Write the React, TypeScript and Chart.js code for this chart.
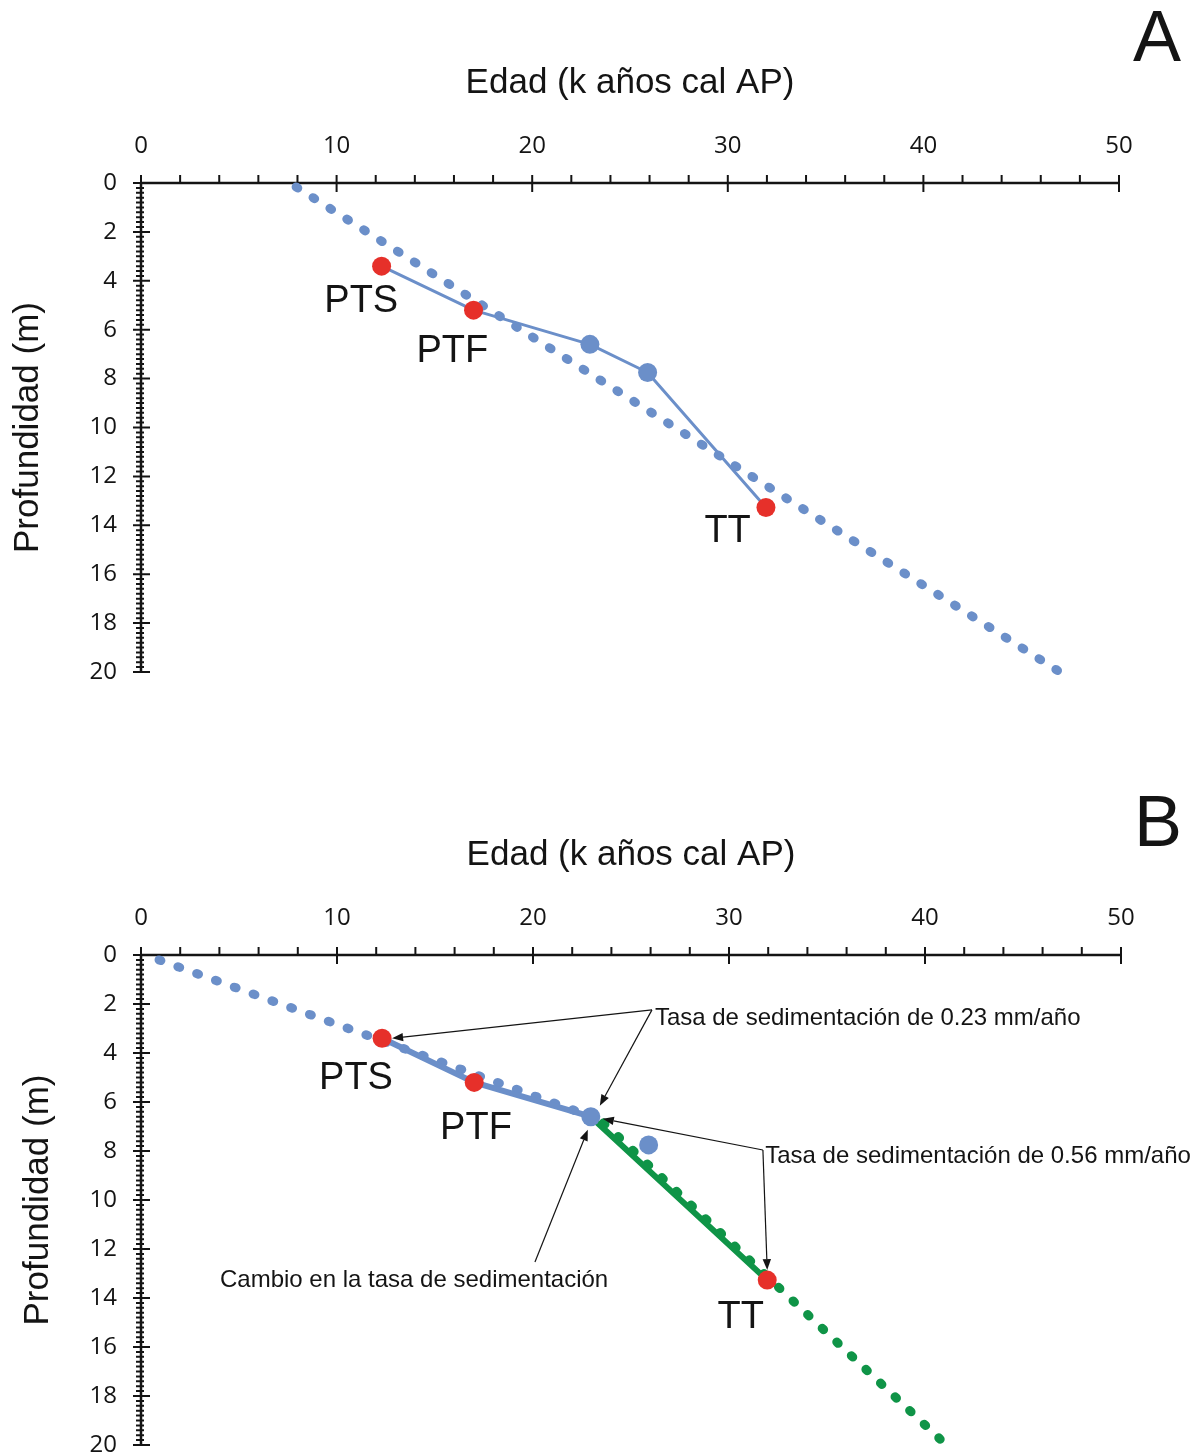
import React, { useEffect, useRef } from "react";
import { Chart, registerables } from "chart.js";

Chart.register(...registerables);

// ---------------- DATA ----------------
// Dated levels (age in k cal yr BP, depth in m)
const levelNames = ["PTS", "PTF", "", "", "TT"];
const levelAges = [12.3, 17.0, 22.95, 25.9, 31.95];
const levelDepths = [3.4, 5.2, 6.6, 7.75, 13.27];
const levelIsTephra = [true, true, false, false, true];

// Panel A: single linear trend
const trendAAges = [7.93, 46.9];
const trendADepths = [0.16, 19.96];

// Panel B: two trends (upper / lower)
const trendB1Ages = [0.92, 22.9];
const trendB1Depths = [0.2, 6.57];
const trendB2Ages = [23.6, 40.85];
const trendB2Depths = [6.85, 19.82];

// Axis ticks
const xTickValues = [0, 10, 20, 30, 40, 50];
const yTickValues = [0, 2, 4, 6, 8, 10, 12, 14, 16, 18, 20];

const xTitle = "Edad (k años cal AP)";
const yTitle = "Profundidad (m)";
const rate1Text = "Tasa de sedimentación de 0.23 mm/año";
const rate2Text = "Tasa de sedimentación de 0.56 mm/año";
const changeText = "Cambio en la tasa de sedimentación";

// ---------------- STYLE ----------------
const BLUE = "#6B8FC9";
const RED = "#E6302A";
const GREEN = "#0F9447";
const INK = "#141414";
const SANS = "'Liberation Sans', Arial, sans-serif";
const TICKFONT = "'Open Sans', 'Noto Sans', sans-serif";

const pts = (ages: number[], depths: number[]) =>
  ages.map((a, i) => ({ x: a, y: depths[i] }));

const pick = (idx: number[]) => idx.map((i) => ({ x: levelAges[i], y: levelDepths[i] }));

type Spec = {
  top: number;
  height: number;
  padding: { top: number; left: number; right: number; bottom: number };
  xTitlePad: number;
  yTitlePad: number;
  letter: string;
  letterPos: [number, number];
  variant: "A" | "B";
  labelPos: { i: number; x: number; y: number }[];
};

function drawArrow(ctx: CanvasRenderingContext2D, fx: number, fy: number, tx: number, ty: number) {
  const ang = Math.atan2(ty - fy, tx - fx);
  const L = 11;
  const W = 4.2;
  const bx = tx - L * Math.cos(ang);
  const by = ty - L * Math.sin(ang);
  ctx.beginPath();
  ctx.moveTo(fx, fy);
  ctx.lineTo(bx, by);
  ctx.stroke();
  ctx.beginPath();
  ctx.moveTo(tx, ty);
  ctx.lineTo(bx + W * Math.sin(ang), by - W * Math.cos(ang));
  ctx.lineTo(bx - W * Math.sin(ang), by + W * Math.cos(ang));
  ctx.closePath();
  ctx.fill();
}

function makePlugins(spec: Spec) {
  const axesPlugin = {
    id: "customAxes",
    beforeDatasetsDraw(chart: any) {
      const { ctx } = chart;
      const xs = chart.scales.x;
      const ys = chart.scales.y;
      const x0 = xs.getPixelForValue(0);
      const x50 = xs.getPixelForValue(50);
      const y0 = ys.getPixelForValue(0);
      const y20 = ys.getPixelForValue(20);
      ctx.save();
      ctx.strokeStyle = INK;
      ctx.lineCap = "butt";
      ctx.lineWidth = 2.5;
      ctx.beginPath();
      ctx.moveTo(x0, y0);
      ctx.lineTo(x50 + 1, y0);
      ctx.moveTo(x0, y0);
      ctx.lineTo(x0, y20);
      ctx.stroke();
      ctx.lineWidth = 2;
      ctx.beginPath();
      // x ticks: major every 10 (crossing), minor every 2 (outside)
      for (let v = 0; v <= 50; v += 2) {
        const px = xs.getPixelForValue(v);
        if (v % 10 === 0) {
          ctx.moveTo(px, y0 - 8);
          ctx.lineTo(px, y0 + 9);
        } else {
          ctx.moveTo(px, y0 - 8);
          ctx.lineTo(px, y0);
        }
      }
      // y ticks: major every 2 (crossing), minor every 0.2
      for (let k = 0; k <= 100; k++) {
        const v = k * 0.2;
        const py = ys.getPixelForValue(v);
        if (k % 10 === 0) {
          ctx.moveTo(x0 - 8, py);
          ctx.lineTo(x0 + 9, py);
        } else {
          ctx.moveTo(x0 - 5, py);
          ctx.lineTo(x0 + 3, py);
        }
      }
      ctx.stroke();
      ctx.restore();
    },
  };

  const decorPlugin = {
    id: "decor",
    afterDatasetsDraw(chart: any) {
      const { ctx } = chart;
      const xs = chart.scales.x;
      const ys = chart.scales.y;
      const P = (a: number, d: number): [number, number] => [xs.getPixelForValue(a), ys.getPixelForValue(d)];
      ctx.save();
      ctx.fillStyle = INK;
      ctx.textAlign = "center";
      ctx.textBaseline = "middle";
      // panel letter
      ctx.font = `72px ${SANS}`;
      ctx.fillText(spec.letter, spec.letterPos[0], spec.letterPos[1]);
      // level names
      ctx.font = `38px ${SANS}`;
      spec.labelPos.forEach((l) => {
        const [px, py] = P(l.x, l.y);
        ctx.fillText(levelNames[l.i], px, py);
      });
      if (spec.variant === "B") {
        ctx.strokeStyle = INK;
        ctx.lineWidth = 1.2;
        ctx.font = `24px ${SANS}`;
        ctx.textAlign = "left";
        const lvl = (i: number) => P(levelAges[i], levelDepths[i]);
        // rate 0.23
        const j1 = P(26.07, 2.24);
        const t0 = lvl(0);
        const t2 = lvl(2);
        drawArrow(ctx, j1[0], j1[1], t0[0] + 10, t0[1]);
        drawArrow(ctx, j1[0], j1[1], t2[0] + 9, t2[1] - 11);
        const tp1 = P(26.22, 2.6);
        ctx.fillText(rate1Text, tp1[0], tp1[1]);
        // rate 0.56
        const j2 = P(31.73, 7.96);
        const t4 = lvl(4);
        drawArrow(ctx, j2[0], j2[1], t2[0] + 12, t2[1] + 2);
        drawArrow(ctx, j2[0], j2[1], t4[0], t4[1] - 10);
        const tp2 = P(31.85, 8.2);
        ctx.fillText(rate2Text, tp2[0], tp2[1]);
        // change
        const j3 = P(20.1, 12.53);
        drawArrow(ctx, j3[0], j3[1], t2[0] - 3, t2[1] + 13);
        const tp3 = P(4.03, 13.3);
        ctx.fillText(changeText, tp3[0], tp3[1]);
      }
      ctx.restore();
    },
  };
  return [axesPlugin, decorPlugin];
}

function buildConfig(spec: Spec): any {
  const tephra = levelAges.map((_, i) => i).filter((i) => levelIsTephra[i]);
  const dated = levelAges.map((_, i) => i).filter((i) => !levelIsTephra[i]);
  const dotted = (data: any[], color: string) => ({
    type: "line",
    data,
    showLine: true,
    borderColor: color,
    borderWidth: 9,
    borderDash: [2, 18],
    borderCapStyle: "round",
    pointRadius: 0,
    fill: false,
    clip: false,
  });
  const solid = (data: any[], color: string, w: number) => ({
    type: "line",
    data,
    showLine: true,
    borderColor: color,
    borderWidth: w,
    borderCapStyle: "round",
    borderJoinStyle: "round",
    pointRadius: 0,
    fill: false,
    clip: false,
  });
  const markers = (data: any[], color: string) => ({
    type: "scatter",
    data,
    showLine: false,
    pointRadius: 9.5,
    pointBackgroundColor: color,
    pointBorderWidth: 0,
    borderColor: color,
    backgroundColor: color,
    clip: false,
  });

  let datasets: any[];
  if (spec.variant === "A") {
    datasets = [
      markers(pick(tephra), RED),
      markers(pick(dated), BLUE),
      solid(pick([0, 1, 2, 3, 4]), BLUE, 3),
      dotted(pts(trendAAges, trendADepths), BLUE),
    ];
  } else {
    datasets = [
      markers(pick(tephra), RED),
      markers(pick(dated), BLUE),
      solid(pick([0, 1, 2]), BLUE, 6),
      solid(pick([2, 4]), GREEN, 6),
      dotted(pts(trendB1Ages, trendB1Depths), BLUE),
      dotted(pts(trendB2Ages, trendB2Depths), GREEN),
    ];
  }

  return {
    type: "scatter",
    data: { datasets },
    plugins: makePlugins(spec),
    options: {
      responsive: false,
      animation: false,
      devicePixelRatio: 1,
      layout: { padding: spec.padding },
      plugins: { legend: { display: false }, tooltip: { enabled: false } },
      scales: {
        x: {
          type: "linear",
          position: "top",
          min: 0,
          max: 50,
          afterBuildTicks: (s: any) => {
            s.ticks = xTickValues.map((v) => ({ value: v }));
          },
          ticks: {
            font: { family: TICKFONT, size: 24 },
            color: INK,
            padding: 22,
            maxRotation: 0,
            callback: (v: any) => String(v),
          },
          grid: { display: false, drawTicks: false },
          border: { display: false },
          title: {
            display: true,
            text: xTitle,
            font: { family: SANS, size: 35 },
            color: INK,
            padding: { top: spec.xTitlePad, bottom: 0 },
          },
          afterFit: (s: any) => {
            s.height = 183;
          },
        },
        y: {
          type: "linear",
          position: "left",
          reverse: true,
          min: 0,
          max: 20,
          afterBuildTicks: (s: any) => {
            s.ticks = yTickValues.map((v) => ({ value: v }));
          },
          ticks: {
            font: { family: TICKFONT, size: 24 },
            color: INK,
            padding: 24,
            callback: (v: any) => String(v),
          },
          grid: { display: false, drawTicks: false },
          border: { display: false },
          title: {
            display: true,
            text: yTitle,
            font: { family: SANS, size: 35 },
            color: INK,
            padding: { top: spec.yTitlePad, bottom: 0 },
          },
          afterFit: (s: any) => {
            s.width = 141;
          },
        },
      },
    },
  };
}

const specA: Spec = {
  top: 0,
  height: 728,
  padding: { top: 0, left: 0, right: 78, bottom: 56 },
  xTitlePad: 62,
  yTitlePad: 7,
  letter: "A",
  letterPos: [1157, 41],
  variant: "A",
  labelPos: [
    { i: 0, x: 11.26, y: 4.83 },
    { i: 1, x: 15.92, y: 6.91 },
    { i: 4, x: 29.99, y: 14.27 },
  ],
};

const specB: Spec = {
  top: 728,
  height: 760,
  padding: { top: 44, left: 0, right: 76, bottom: 43 },
  xTitlePad: 62.5,
  yTitlePad: 17,
  letter: "B",
  letterPos: [1158, 98],
  variant: "B",
  labelPos: [
    { i: 0, x: 10.97, y: 5.06 },
    { i: 1, x: 17.09, y: 7.1 },
    { i: 4, x: 30.6, y: 14.8 },
  ],
};

function Panel({ spec }: { spec: Spec }) {
  const ref = useRef<HTMLCanvasElement>(null);
  useEffect(() => {
    const chart = new Chart(ref.current as HTMLCanvasElement, buildConfig(spec));
    return () => chart.destroy();
  }, [spec]);
  return (
    <canvas
      ref={ref}
      width={1197}
      height={spec.height}
      style={{ position: "absolute", left: 0, top: spec.top, width: 1197, height: spec.height }}
    />
  );
}

export default function App() {
  return (
    <div
      style={{
        position: "absolute",
        left: 0,
        top: 0,
        width: 1197,
        height: 1456,
        overflow: "hidden",
        background: "#ffffff",
      }}
    >
      <Panel spec={specA} />
      <Panel spec={specB} />
    </div>
  );
}
